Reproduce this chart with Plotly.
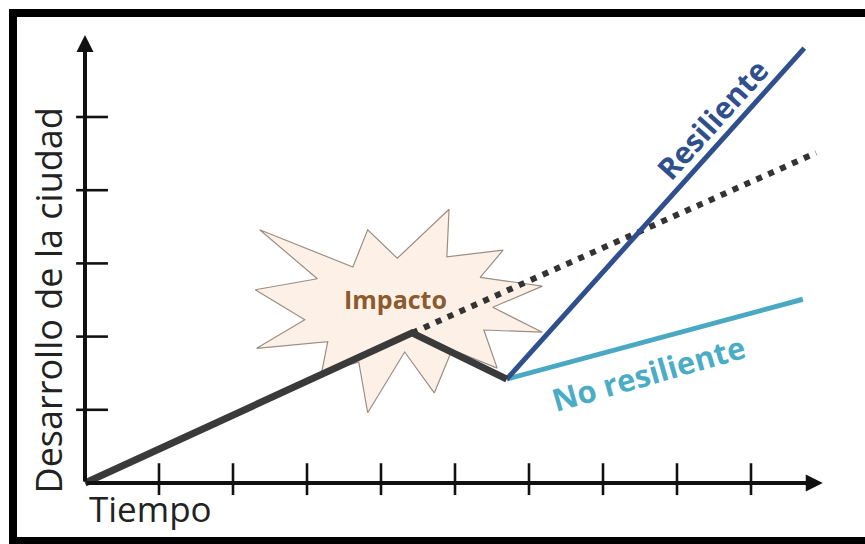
import plotly.graph_objects as go

# --- data (time units on x, development units on y) ---
trend_x = [0.0, 4.42, 5.70]            # growth, then drop after the shock
trend_y = [0.0, 2.05, 1.42]
expected_x = [4.42, 9.88]               # path without the shock
expected_y = [2.05, 4.51]
resilient_x = [5.70, 9.72]
resilient_y = [1.42, 5.94]
non_resilient_x = [5.70, 9.70]
non_resilient_y = [1.42, 2.51]

# impact burst outline
burst_x = [2.36, 3.62, 3.82, 4.22, 4.92, 4.89, 5.65, 5.34, 6.18, 5.51, 6.18, 5.39,
           5.57, 4.96, 4.72, 4.32, 3.82, 3.70, 3.20, 3.28, 2.32, 2.97, 2.30, 3.14]
burst_y = [3.46, 2.95, 3.46, 3.07, 3.74, 3.09, 3.18, 2.81, 2.69, 2.40, 2.06, 2.09,
           1.57, 1.82, 1.23, 1.79, 0.96, 1.65, 1.52, 1.93, 1.84, 2.23, 2.64, 2.79]

x_ticks = [1, 2, 3, 4, 5, 6, 7, 8, 9]
y_ticks = [1, 2, 3, 4, 5]
x_axis_end = 9.97
y_axis_end = 6.12

x_label = "Tiempo"
y_label = "Desarrollo de la ciudad"
impact_label = "Impacto"
resilient_label = "Resiliente"
non_resilient_label = "No resiliente"

W, H = 865, 544
UX, UY = 74.0, 73.2          # pixels per unit
OX, OY = 85.0, 483.0         # pixel position of the origin

fig = go.Figure()

# burst
fig.add_trace(go.Scatter(
    x=burst_x + burst_x[:1], y=burst_y + burst_y[:1], mode="lines",
    fill="toself", fillcolor="#FDF0E6",
    line=dict(color="#9b8e82", width=1.2), hoverinfo="skip"))

# tick marks crossing the axes
tx, ty = [], []
for t in x_ticks:
    tx += [t, t, None]
    ty += [-0.165, 0.27, None]
fig.add_trace(go.Scatter(x=tx, y=ty, mode="lines",
                         line=dict(color="#111", width=2.6), hoverinfo="skip"))
tx, ty = [], []
for t in y_ticks:
    tx += [-0.12, 0.31, None]
    ty += [t, t, None]
fig.add_trace(go.Scatter(x=tx, y=ty, mode="lines",
                         line=dict(color="#111", width=2.6), hoverinfo="skip"))

# expected trend (dotted)
fig.add_trace(go.Scatter(x=expected_x, y=expected_y, mode="lines",
                         line=dict(color="#333333", width=6, dash="6px,7px"),
                         hoverinfo="skip"))
# recovery paths
fig.add_trace(go.Scatter(x=non_resilient_x, y=non_resilient_y, mode="lines",
                         line=dict(color="#4AA8C2", width=5), hoverinfo="skip"))
fig.add_trace(go.Scatter(x=resilient_x, y=resilient_y, mode="lines",
                         line=dict(color="#2F4F8D", width=5), hoverinfo="skip"))
# actual development
fig.add_trace(go.Scatter(x=trend_x, y=trend_y, mode="lines",
                         line=dict(color="#3a3a3a", width=7), hoverinfo="skip"))

annotations = [
    # axes with arrow heads
    dict(x=x_axis_end, y=0, ax=0, ay=0, xref="x", yref="y", axref="x", ayref="y",
         showarrow=True, arrowhead=2, arrowsize=0.85, arrowwidth=4, arrowcolor="#111", text=""),
    dict(x=0, y=y_axis_end, ax=0, ay=0, xref="x", yref="y", axref="x", ayref="y",
         showarrow=True, arrowhead=2, arrowsize=0.85, arrowwidth=4, arrowcolor="#111", text=""),
    dict(x=0.89, y=-0.35, xref="x", yref="y", text=x_label, showarrow=False,
         font=dict(family="Open Sans", size=35, color="#222")),
    dict(x=-0.49, y=2.49, xref="x", yref="y", text=y_label, showarrow=False, textangle=-90,
         font=dict(family="Open Sans", size=36, color="#222")),
    dict(x=4.20, y=2.51, xref="x", yref="y", text="<b>%s</b>" % impact_label, showarrow=False,
         font=dict(family="Open Sans", size=25, color="#8B5A2E")),
    dict(x=8.47, y=4.97, xref="x", yref="y", text="<b>%s</b>" % resilient_label,
         showarrow=False, textangle=-48,
         font=dict(family="Open Sans", size=30, color="#2F4F8D")),
    dict(x=7.62, y=1.50, xref="x", yref="y", text="<b>%s</b>" % non_resilient_label,
         showarrow=False, textangle=-16,
         font=dict(family="Open Sans", size=31, color="#4BACC6")),
]

# black frame (left, top, bottom edges)
shapes = [
    dict(type="rect", xref="paper", yref="paper", x0=9 / W, x1=17 / W, y0=0, y1=1 - 9 / H,
         fillcolor="#000", line=dict(width=0), layer="above"),
    dict(type="rect", xref="paper", yref="paper", x0=9 / W, x1=1, y0=1 - 17 / H, y1=1 - 9 / H,
         fillcolor="#000", line=dict(width=0), layer="above"),
    dict(type="rect", xref="paper", yref="paper", x0=9 / W, x1=1, y0=0, y1=1 - 537 / H,
         fillcolor="#000", line=dict(width=0), layer="above"),
]

fig.update_layout(
    width=W, height=H, autosize=False,
    margin=dict(l=0, r=0, t=0, b=0),
    paper_bgcolor="white", plot_bgcolor="white",
    showlegend=False,
    xaxis=dict(range=[(0 - OX) / UX, (W - OX) / UX], visible=False, fixedrange=True),
    yaxis=dict(range=[(OY - H) / UY, OY / UY], visible=False, fixedrange=True),
    annotations=annotations, shapes=shapes,
)

fig.write_html("out.html", config={"displayModeBar": False})
